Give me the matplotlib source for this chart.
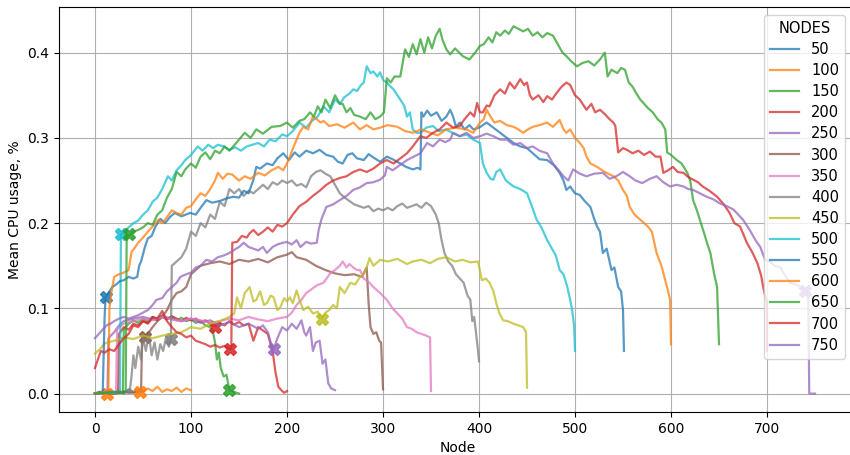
import matplotlib
matplotlib.use("Agg")
import matplotlib.pyplot as plt

nodes = [50, 100, 150, 200, 250, 300, 350, 400, 450, 500, 550, 600, 650, 700, 750]

s50 = [(0, 0.0), (5, 0.002), (10, 0.0), (15, 0.004), (20, 0.001), (25, 0.003), (30, 0.0),
       (35, 0.005), (40, 0.002), (45, 0.004), (50, 0.003)]

s100 = [(0, 0.0), (5, 0.001), (10, 0.0), (15, 0.002), (20, 0.001), (25, 0.0), (30, 0.003),
        (35, 0.001), (40, 0.002), (45, 0.004), (50, 0.002), (55, 0.006), (60, 0.003),
        (65, 0.008), (70, 0.002), (75, 0.005), (80, 0.003), (85, 0.007), (90, 0.002),
        (95, 0.006), (100, 0.004)]

s150 = [(0, 0.0), (10, 0.002), (20, 0.001), (29, 0.002), (30, 0.075), (35, 0.082), (40, 0.086),
        (45, 0.083), (50, 0.088), (55, 0.085), (60, 0.09), (65, 0.087), (70, 0.092), (75, 0.088),
        (80, 0.09), (85, 0.086), (90, 0.089), (95, 0.085), (100, 0.087), (105, 0.083),
        (110, 0.085), (115, 0.08), (120, 0.078), (123, 0.072), (125, 0.06), (127, 0.04),
        (129, 0.048), (131, 0.03), (134, 0.02), (137, 0.022), (140, 0.004), (145, 0.002),
        (150, 0.0)]

s200 = [(0, 0.0), (10, 0.001), (20, 0.0), (24, 0.002), (25, 0.07), (30, 0.078), (35, 0.075),
        (40, 0.082), (45, 0.08), (50, 0.085), (55, 0.083), (60, 0.088), (65, 0.086), (70, 0.09),
        (75, 0.087), (80, 0.091), (85, 0.088), (90, 0.085), (95, 0.089), (100, 0.086),
        (105, 0.088), (110, 0.084), (115, 0.086), (120, 0.082), (125, 0.079), (130, 0.083),
        (135, 0.08), (140, 0.085), (145, 0.081), (150, 0.084), (155, 0.08), (160, 0.082),
        (165, 0.062), (170, 0.078), (175, 0.074), (180, 0.07), (185, 0.05), (188, 0.025),
        (191, 0.008), (194, 0.004), (197, 0.001), (200, 0.003)]

s250 = [(0, 0.0), (10, 0.002), (13, 0.001), (14, 0.065), (20, 0.072), (25, 0.08), (30, 0.085),
        (40, 0.088), (50, 0.09), (60, 0.087), (70, 0.091), (80, 0.088), (90, 0.085), (100, 0.088),
        (110, 0.083), (120, 0.086), (130, 0.08), (140, 0.084), (150, 0.078), (160, 0.082),
        (170, 0.076), (175, 0.08), (180, 0.072), (183, 0.06), (186, 0.052), (190, 0.065),
        (195, 0.078), (200, 0.074), (205, 0.082), (210, 0.076), (215, 0.086), (218, 0.072),
        (220, 0.068), (224, 0.078), (227, 0.05), (230, 0.06), (234, 0.062), (237, 0.035),
        (240, 0.04), (243, 0.012), (246, 0.006), (250, 0.004)]

s300 = [(0, 0.0), (10, 0.001), (20, 0.0), (30, 0.002), (40, 0.001), (48, 0.002), (49, 0.065),
        (52, 0.066), (55, 0.07), (60, 0.078), (65, 0.085), (70, 0.09), (75, 0.098), (80, 0.11),
        (85, 0.118), (90, 0.12), (95, 0.125), (100, 0.14), (105, 0.145), (110, 0.15),
        (120, 0.153), (130, 0.155), (140, 0.152), (150, 0.157), (160, 0.155), (170, 0.158),
        (180, 0.154), (190, 0.16), (200, 0.163), (205, 0.166), (210, 0.16), (220, 0.157),
        (230, 0.15), (240, 0.145), (250, 0.141), (260, 0.139), (270, 0.14), (278, 0.137),
        (283, 0.148), (285, 0.106), (287, 0.078), (290, 0.07), (293, 0.072), (296, 0.062),
        (298, 0.06), (300, 0.005)]

s350 = [(0, 0.0), (10, 0.001), (20, 0.002), (22, 0.003), (23, 0.075), (25, 0.078), (30, 0.082),
        (40, 0.085), (50, 0.088), (60, 0.086), (70, 0.09), (80, 0.087), (90, 0.085), (100, 0.088),
        (110, 0.086), (120, 0.083), (130, 0.085), (140, 0.088), (150, 0.086), (160, 0.09),
        (170, 0.087), (180, 0.085), (190, 0.088), (200, 0.09), (205, 0.095), (210, 0.104),
        (215, 0.11), (220, 0.118), (225, 0.122), (231, 0.127), (238, 0.13), (245, 0.141),
        (250, 0.145), (255, 0.15), (258, 0.155), (262, 0.148), (265, 0.152), (269, 0.148),
        (273, 0.145), (276, 0.145), (280, 0.135), (286, 0.13), (290, 0.125), (297, 0.118),
        (304, 0.11), (310, 0.1), (315, 0.094), (320, 0.088), (325, 0.078), (330, 0.076),
        (335, 0.072), (340, 0.07), (345, 0.068), (349, 0.066), (350, 0.003)]

s400 = [(0, 0.0), (10, 0.001), (20, 0.0), (30, 0.002), (36, 0.001), (38, 0.02), (40, 0.045),
        (42, 0.03), (45, 0.055), (48, 0.04), (50, 0.066), (53, 0.05), (56, 0.07), (59, 0.045),
        (62, 0.06), (65, 0.04), (68, 0.058), (71, 0.05), (74, 0.066), (77, 0.055), (79, 0.064),
        (80, 0.15), (85, 0.155), (90, 0.16), (95, 0.17), (100, 0.19), (105, 0.185), (110, 0.2),
        (115, 0.195), (120, 0.21), (125, 0.205), (130, 0.225), (135, 0.22), (140, 0.24),
        (145, 0.235), (150, 0.24), (155, 0.232), (160, 0.238), (165, 0.235), (170, 0.24),
        (175, 0.245), (180, 0.24), (185, 0.248), (190, 0.245), (195, 0.25), (200, 0.247),
        (205, 0.25), (210, 0.244), (215, 0.246), (220, 0.242), (225, 0.255), (230, 0.26),
        (235, 0.262), (240, 0.258), (245, 0.255), (250, 0.245), (255, 0.235), (260, 0.23),
        (265, 0.226), (270, 0.222), (275, 0.22), (280, 0.218), (285, 0.22), (290, 0.214),
        (295, 0.217), (300, 0.215), (305, 0.218), (310, 0.215), (315, 0.22), (320, 0.223),
        (325, 0.218), (330, 0.22), (335, 0.222), (340, 0.218), (345, 0.224), (350, 0.22),
        (355, 0.21), (358, 0.2), (361, 0.18), (364, 0.165), (368, 0.155), (372, 0.15),
        (376, 0.14), (380, 0.135), (384, 0.13), (388, 0.115), (391, 0.11), (393, 0.085),
        (395, 0.09), (397, 0.07), (399, 0.05), (400, 0.038)]

s450 = [(0, 0.047), (5, 0.052), (10, 0.059), (20, 0.062), (30, 0.066), (40, 0.064), (50, 0.068),
        (60, 0.065), (70, 0.068), (80, 0.07), (90, 0.072), (100, 0.078), (110, 0.076),
        (120, 0.082), (130, 0.085), (140, 0.09), (145, 0.094), (148, 0.113), (152, 0.1),
        (156, 0.118), (161, 0.125), (165, 0.108), (168, 0.11), (172, 0.12), (176, 0.104),
        (179, 0.106), (183, 0.115), (186, 0.113), (190, 0.098), (193, 0.101), (197, 0.112),
        (200, 0.108), (203, 0.113), (206, 0.106), (210, 0.121), (213, 0.11), (217, 0.098),
        (222, 0.102), (227, 0.094), (232, 0.096), (236, 0.088), (240, 0.095), (244, 0.098),
        (248, 0.104), (252, 0.1), (255, 0.125), (260, 0.118), (266, 0.13), (271, 0.128),
        (276, 0.137), (280, 0.14), (283, 0.148), (286, 0.159), (290, 0.15), (297, 0.157),
        (305, 0.155), (315, 0.158), (325, 0.152), (331, 0.155), (340, 0.157), (349, 0.153),
        (357, 0.158), (366, 0.16), (375, 0.155), (383, 0.157), (391, 0.154), (399, 0.155),
        (403, 0.133), (407, 0.135), (411, 0.13), (415, 0.12), (418, 0.106), (421, 0.095),
        (425, 0.086), (430, 0.085), (436, 0.082), (441, 0.08), (446, 0.078), (449, 0.072),
        (450, 0.007)]

s500 = [(0, 0.0), (10, 0.002), (20, 0.001), (26, 0.003), (27, 0.187), (30, 0.19), (35, 0.195),
        (40, 0.2), (45, 0.203), (50, 0.21), (55, 0.215), (60, 0.225), (65, 0.23), (70, 0.24),
        (76, 0.255), (80, 0.25), (85, 0.262), (90, 0.268), (94, 0.274), (100, 0.28), (107, 0.29),
        (112, 0.285), (118, 0.292), (123, 0.288), (128, 0.292), (134, 0.29), (140, 0.286),
        (146, 0.289), (152, 0.285), (158, 0.29), (164, 0.292), (170, 0.294), (176, 0.29),
        (182, 0.298), (188, 0.296), (195, 0.304), (200, 0.302), (206, 0.308), (213, 0.318),
        (220, 0.312), (226, 0.32), (232, 0.325), (238, 0.337), (244, 0.33), (250, 0.345),
        (255, 0.34), (260, 0.348), (265, 0.352), (269, 0.357), (273, 0.355), (277, 0.362),
        (280, 0.365), (283, 0.384), (287, 0.376), (290, 0.378), (294, 0.372), (297, 0.377),
        (300, 0.368), (304, 0.365), (308, 0.36), (311, 0.357), (315, 0.35), (318, 0.345),
        (322, 0.338), (325, 0.325), (328, 0.33), (331, 0.31), (335, 0.306), (339, 0.306),
        (345, 0.312), (352, 0.314), (358, 0.308), (366, 0.31), (372, 0.306), (380, 0.302),
        (387, 0.304), (394, 0.298), (401, 0.294), (404, 0.27), (408, 0.259), (412, 0.252),
        (415, 0.251), (418, 0.26), (422, 0.263), (428, 0.25), (436, 0.243), (443, 0.24),
        (450, 0.235), (455, 0.22), (460, 0.204), (465, 0.195), (471, 0.18), (476, 0.17),
        (480, 0.162), (484, 0.145), (488, 0.14), (492, 0.125), (495, 0.11), (497, 0.098),
        (499, 0.08), (500, 0.05)]

s550 = [(0, 0.0), (5, 0.002), (8, 0.0), (10, 0.09), (11, 0.113), (14, 0.118), (18, 0.125),
        (22, 0.128), (26, 0.132), (30, 0.133), (35, 0.137), (40, 0.135), (44, 0.137),
        (46, 0.15), (48, 0.155), (52, 0.172), (55, 0.182), (59, 0.185), (63, 0.196), (68, 0.205),
        (73, 0.2), (78, 0.207), (83, 0.212), (90, 0.208), (99, 0.212), (105, 0.21), (110, 0.218),
        (116, 0.227), (122, 0.224), (130, 0.226), (137, 0.229), (144, 0.231), (150, 0.23),
        (155, 0.238), (160, 0.235), (165, 0.251), (168, 0.266), (172, 0.264), (179, 0.27),
        (185, 0.268), (190, 0.276), (196, 0.282), (202, 0.274), (208, 0.283), (213, 0.278),
        (220, 0.285), (227, 0.282), (234, 0.286), (241, 0.28), (248, 0.278), (253, 0.272),
        (258, 0.27), (263, 0.28), (268, 0.282), (273, 0.276), (280, 0.274), (285, 0.281),
        (290, 0.277), (297, 0.272), (304, 0.278), (310, 0.275), (318, 0.27), (324, 0.266),
        (331, 0.263), (336, 0.265), (339, 0.263), (340, 0.33), (342, 0.325), (346, 0.332),
        (350, 0.326), (356, 0.33), (361, 0.32), (366, 0.325), (370, 0.333), (373, 0.325),
        (376, 0.313), (380, 0.318), (385, 0.31), (390, 0.315), (394, 0.31), (400, 0.312),
        (408, 0.318), (415, 0.312), (422, 0.306), (429, 0.3), (436, 0.294), (443, 0.29),
        (450, 0.288), (456, 0.282), (463, 0.275), (471, 0.274), (478, 0.268), (484, 0.259),
        (488, 0.25), (491, 0.239), (495, 0.243), (500, 0.235), (505, 0.233), (510, 0.226),
        (516, 0.219), (520, 0.205), (523, 0.196), (526, 0.19), (529, 0.165), (533, 0.17),
        (538, 0.145), (541, 0.148), (545, 0.125), (548, 0.12), (550, 0.098), (551, 0.05)]

s600 = [(0, 0.0), (5, 0.001), (10, 0.002), (14, 0.003), (15, 0.1), (17, 0.118), (20, 0.137),
        (25, 0.14), (30, 0.142), (35, 0.145), (38, 0.166), (42, 0.172), (45, 0.177), (50, 0.183),
        (55, 0.19), (60, 0.196), (66, 0.204), (70, 0.2), (75, 0.207), (80, 0.215), (85, 0.212),
        (90, 0.21), (95, 0.218), (100, 0.22), (105, 0.228), (110, 0.235), (115, 0.232),
        (120, 0.24), (125, 0.25), (128, 0.259), (133, 0.252), (138, 0.258), (143, 0.257),
        (150, 0.25), (156, 0.255), (162, 0.252), (170, 0.259), (177, 0.256), (184, 0.262),
        (191, 0.266), (196, 0.262), (200, 0.27), (203, 0.278), (207, 0.29), (210, 0.298),
        (213, 0.306), (217, 0.313), (222, 0.31), (227, 0.325), (231, 0.322), (235, 0.318),
        (238, 0.32), (244, 0.314), (252, 0.316), (260, 0.312), (269, 0.318), (276, 0.31),
        (283, 0.315), (290, 0.31), (297, 0.312), (305, 0.315), (315, 0.313), (323, 0.308),
        (331, 0.306), (340, 0.31), (349, 0.306), (357, 0.303), (366, 0.31), (375, 0.312),
        (387, 0.31), (394, 0.306), (401, 0.318), (405, 0.322), (408, 0.333), (412, 0.325),
        (416, 0.318), (422, 0.32), (429, 0.315), (436, 0.313), (441, 0.31), (446, 0.306),
        (451, 0.31), (456, 0.313), (463, 0.315), (471, 0.318), (477, 0.313), (484, 0.321),
        (488, 0.31), (491, 0.306), (495, 0.31), (500, 0.3), (505, 0.294), (509, 0.288),
        (512, 0.278), (516, 0.27), (523, 0.266), (531, 0.26), (540, 0.255), (545, 0.25),
        (550, 0.239), (554, 0.232), (557, 0.219), (562, 0.21), (568, 0.204), (572, 0.2),
        (576, 0.196), (580, 0.19), (585, 0.165), (590, 0.15), (594, 0.133), (597, 0.12),
        (599, 0.11), (600, 0.058)]

s650 = [(0, 0.0), (10, 0.001), (20, 0.002), (30, 0.001), (32, 0.003), (33, 0.187), (35, 0.185),
        (40, 0.19), (45, 0.192), (50, 0.195), (55, 0.2), (60, 0.198), (65, 0.21), (70, 0.215),
        (75, 0.23), (80, 0.24), (85, 0.26), (90, 0.255), (94, 0.263), (100, 0.27), (105, 0.265),
        (110, 0.278), (115, 0.283), (120, 0.275), (125, 0.285), (130, 0.282), (135, 0.29),
        (140, 0.285), (144, 0.29), (150, 0.298), (156, 0.306), (162, 0.3), (168, 0.31),
        (175, 0.305), (184, 0.313), (193, 0.314), (200, 0.318), (206, 0.312), (213, 0.32),
        (218, 0.322), (224, 0.33), (228, 0.325), (232, 0.337), (236, 0.33), (240, 0.345),
        (245, 0.335), (250, 0.35), (255, 0.34), (258, 0.34), (262, 0.33), (266, 0.335),
        (270, 0.327), (276, 0.325), (282, 0.322), (287, 0.33), (292, 0.322), (297, 0.325),
        (301, 0.33), (304, 0.37), (308, 0.365), (312, 0.372), (318, 0.372), (323, 0.404),
        (327, 0.395), (331, 0.41), (335, 0.398), (339, 0.416), (343, 0.4), (347, 0.418),
        (351, 0.405), (355, 0.42), (359, 0.428), (362, 0.415), (366, 0.404), (370, 0.398),
        (375, 0.405), (383, 0.396), (390, 0.392), (396, 0.4), (401, 0.408), (405, 0.41),
        (410, 0.418), (414, 0.412), (418, 0.424), (422, 0.42), (427, 0.426), (431, 0.422),
        (436, 0.431), (441, 0.428), (446, 0.425), (451, 0.428), (456, 0.42), (461, 0.424),
        (466, 0.418), (471, 0.423), (477, 0.42), (482, 0.41), (487, 0.4), (491, 0.396),
        (496, 0.39), (502, 0.384), (508, 0.388), (514, 0.39), (520, 0.385), (526, 0.392),
        (531, 0.4), (534, 0.372), (538, 0.38), (544, 0.376), (548, 0.382), (552, 0.38),
        (556, 0.365), (560, 0.36), (564, 0.352), (568, 0.345), (572, 0.34), (576, 0.335),
        (581, 0.33), (586, 0.322), (590, 0.318), (594, 0.31), (596, 0.283), (600, 0.28),
        (606, 0.274), (611, 0.27), (617, 0.259), (620, 0.25), (623, 0.227), (627, 0.215),
        (630, 0.204), (634, 0.19), (638, 0.175), (641, 0.165), (645, 0.14), (648, 0.125),
        (650, 0.058)]

s700 = [(0, 0.03), (3, 0.04), (6, 0.05), (10, 0.048), (15, 0.052), (20, 0.05), (25, 0.058),
        (30, 0.065), (35, 0.07), (40, 0.08), (45, 0.078), (50, 0.085), (55, 0.082), (60, 0.09),
        (65, 0.088), (70, 0.097), (75, 0.085), (80, 0.078), (85, 0.072), (90, 0.07), (95, 0.066),
        (100, 0.068), (105, 0.062), (110, 0.06), (115, 0.058), (120, 0.055), (125, 0.057),
        (130, 0.054), (135, 0.056), (141, 0.052), (142, 0.053), (143, 0.177), (148, 0.178),
        (153, 0.185), (158, 0.183), (161, 0.188), (165, 0.192), (170, 0.186), (175, 0.19),
        (180, 0.195), (185, 0.19), (190, 0.198), (195, 0.196), (200, 0.2), (206, 0.21),
        (213, 0.22), (220, 0.225), (227, 0.232), (234, 0.238), (241, 0.245), (248, 0.25),
        (255, 0.253), (262, 0.255), (269, 0.26), (276, 0.263), (283, 0.26), (290, 0.264),
        (297, 0.27), (304, 0.274), (311, 0.27), (318, 0.276), (325, 0.282), (331, 0.29),
        (335, 0.296), (339, 0.302), (345, 0.3), (352, 0.306), (359, 0.31), (366, 0.318),
        (373, 0.312), (380, 0.314), (385, 0.322), (391, 0.33), (395, 0.325), (398, 0.341),
        (401, 0.33), (404, 0.33), (408, 0.338), (411, 0.337), (416, 0.35), (422, 0.357),
        (427, 0.352), (432, 0.365), (437, 0.358), (443, 0.369), (447, 0.362), (450, 0.365),
        (453, 0.35), (456, 0.345), (462, 0.35), (467, 0.342), (471, 0.349), (476, 0.345),
        (481, 0.353), (486, 0.36), (491, 0.365), (495, 0.362), (500, 0.35), (505, 0.345),
        (509, 0.338), (512, 0.333), (517, 0.34), (521, 0.33), (526, 0.333), (531, 0.328),
        (536, 0.322), (540, 0.318), (542, 0.314), (545, 0.283), (550, 0.288), (554, 0.286),
        (560, 0.282), (566, 0.285), (572, 0.28), (578, 0.284), (584, 0.278), (589, 0.278),
        (592, 0.259), (597, 0.262), (602, 0.266), (607, 0.26), (613, 0.259), (618, 0.254),
        (623, 0.251), (628, 0.248), (633, 0.243), (640, 0.238), (648, 0.231), (655, 0.222),
        (661, 0.212), (666, 0.2), (672, 0.196), (679, 0.177), (685, 0.165), (690, 0.153),
        (694, 0.138), (696, 0.125), (698, 0.115), (700, 0.106), (700, 0.05)]

s750 = [(0, 0.065), (4, 0.07), (8, 0.075), (12, 0.08), (16, 0.082), (20, 0.085), (25, 0.088),
        (30, 0.09), (35, 0.088), (40, 0.09), (45, 0.092), (50, 0.095), (55, 0.098), (60, 0.104),
        (64, 0.11), (70, 0.112), (75, 0.12), (80, 0.125), (85, 0.13), (89, 0.137), (95, 0.14),
        (100, 0.142), (105, 0.148), (110, 0.15), (116, 0.157), (122, 0.155), (128, 0.16),
        (134, 0.162), (140, 0.165), (144, 0.168), (150, 0.172), (155, 0.177), (160, 0.172),
        (165, 0.17), (170, 0.168), (175, 0.172), (179, 0.165), (185, 0.172), (190, 0.175),
        (196, 0.177), (200, 0.178), (205, 0.175), (210, 0.18), (214, 0.172), (220, 0.178),
        (225, 0.176), (231, 0.177), (233, 0.192), (236, 0.205), (241, 0.219), (248, 0.222),
        (255, 0.227), (262, 0.232), (269, 0.239), (276, 0.242), (283, 0.247), (290, 0.248),
        (297, 0.251), (302, 0.256), (304, 0.266), (310, 0.262), (315, 0.266), (320, 0.27),
        (325, 0.274), (332, 0.278), (339, 0.282), (346, 0.294), (352, 0.29), (359, 0.298),
        (365, 0.295), (370, 0.298), (373, 0.306), (380, 0.302), (387, 0.306), (394, 0.3),
        (401, 0.302), (408, 0.305), (415, 0.302), (422, 0.298), (429, 0.298), (436, 0.292),
        (443, 0.294), (450, 0.288), (456, 0.29), (463, 0.285), (471, 0.282), (477, 0.27),
        (483, 0.262), (488, 0.255), (493, 0.25), (498, 0.263), (505, 0.258), (512, 0.255),
        (520, 0.258), (529, 0.259), (536, 0.252), (543, 0.255), (550, 0.26), (557, 0.255),
        (563, 0.25), (570, 0.247), (578, 0.252), (585, 0.255), (592, 0.248), (599, 0.243),
        (606, 0.245), (613, 0.243), (618, 0.24), (623, 0.239), (630, 0.235), (637, 0.231),
        (644, 0.228), (651, 0.223), (658, 0.22), (665, 0.216), (670, 0.21), (675, 0.204),
        (682, 0.192), (688, 0.18), (693, 0.172), (698, 0.157), (703, 0.155), (708, 0.15),
        (714, 0.148), (719, 0.138), (724, 0.13), (730, 0.128), (737, 0.124), (741, 0.12),
        (743, 0.115), (744, 0.0), (750, 0.0)]

series = [s50, s100, s150, s200, s250, s300, s350, s400, s450, s500, s550, s600, s650, s700, s750]

# X markers (node count, x, y)
marker_nodes = [550, 100, 500, 650, 600, 300, 400, 200, 150, 700, 250, 450, 750]
marker_x = [11, 13, 27, 35, 47, 52, 79, 125, 140, 141, 186, 236, 740]
marker_y = [0.113, -0.001, 0.187, 0.187, 0.002, 0.066, 0.064, 0.078, 0.004, 0.052, 0.052, 0.088, 0.12]

colors = plt.rcParams['axes.prop_cycle'].by_key()['color']

fig = plt.figure(figsize=(8.5, 4.55), dpi=100)
ax = fig.add_axes([59 / 850, 43 / 455, (856 - 59) / 850, (412 - 7) / 455])

for i, (n, s) in enumerate(zip(nodes, series)):
    xs = [p[0] for p in s]
    ys = [p[1] for p in s]
    c = colors[i % 10]
    ax.plot(xs, ys, color=c, lw=1.6, alpha=0.75, label=str(n))
    for mn, mx, my in zip(marker_nodes, marker_x, marker_y):
        if mn == n:
            ax.plot([mx], [my], marker='X', ms=9, color=c, alpha=0.85, ls='none')

ax.set_xlim(-37.5, 792.7)
ax.set_ylim(-0.0216, 0.4536)
ax.set_xticks([0, 100, 200, 300, 400, 500, 600, 700])
ax.set_yticks([0.0, 0.1, 0.2, 0.3, 0.4])
ax.grid(True, color='#b0b0b0', lw=0.8)
ax.set_axisbelow(True)
ax.set_xlabel('Node', fontsize=10)
ax.set_ylabel('Mean CPU usage, %', fontsize=10)
ax.tick_params(labelsize=10)
ax.legend(title='NODES', loc='upper right', fontsize=10.5, title_fontsize=10.5,
          bbox_to_anchor=(845 / 850, (455 - 15) / 455), bbox_transform=fig.transFigure,
          borderaxespad=0, labelspacing=0.42)

fig.savefig('out.png', dpi=100)
